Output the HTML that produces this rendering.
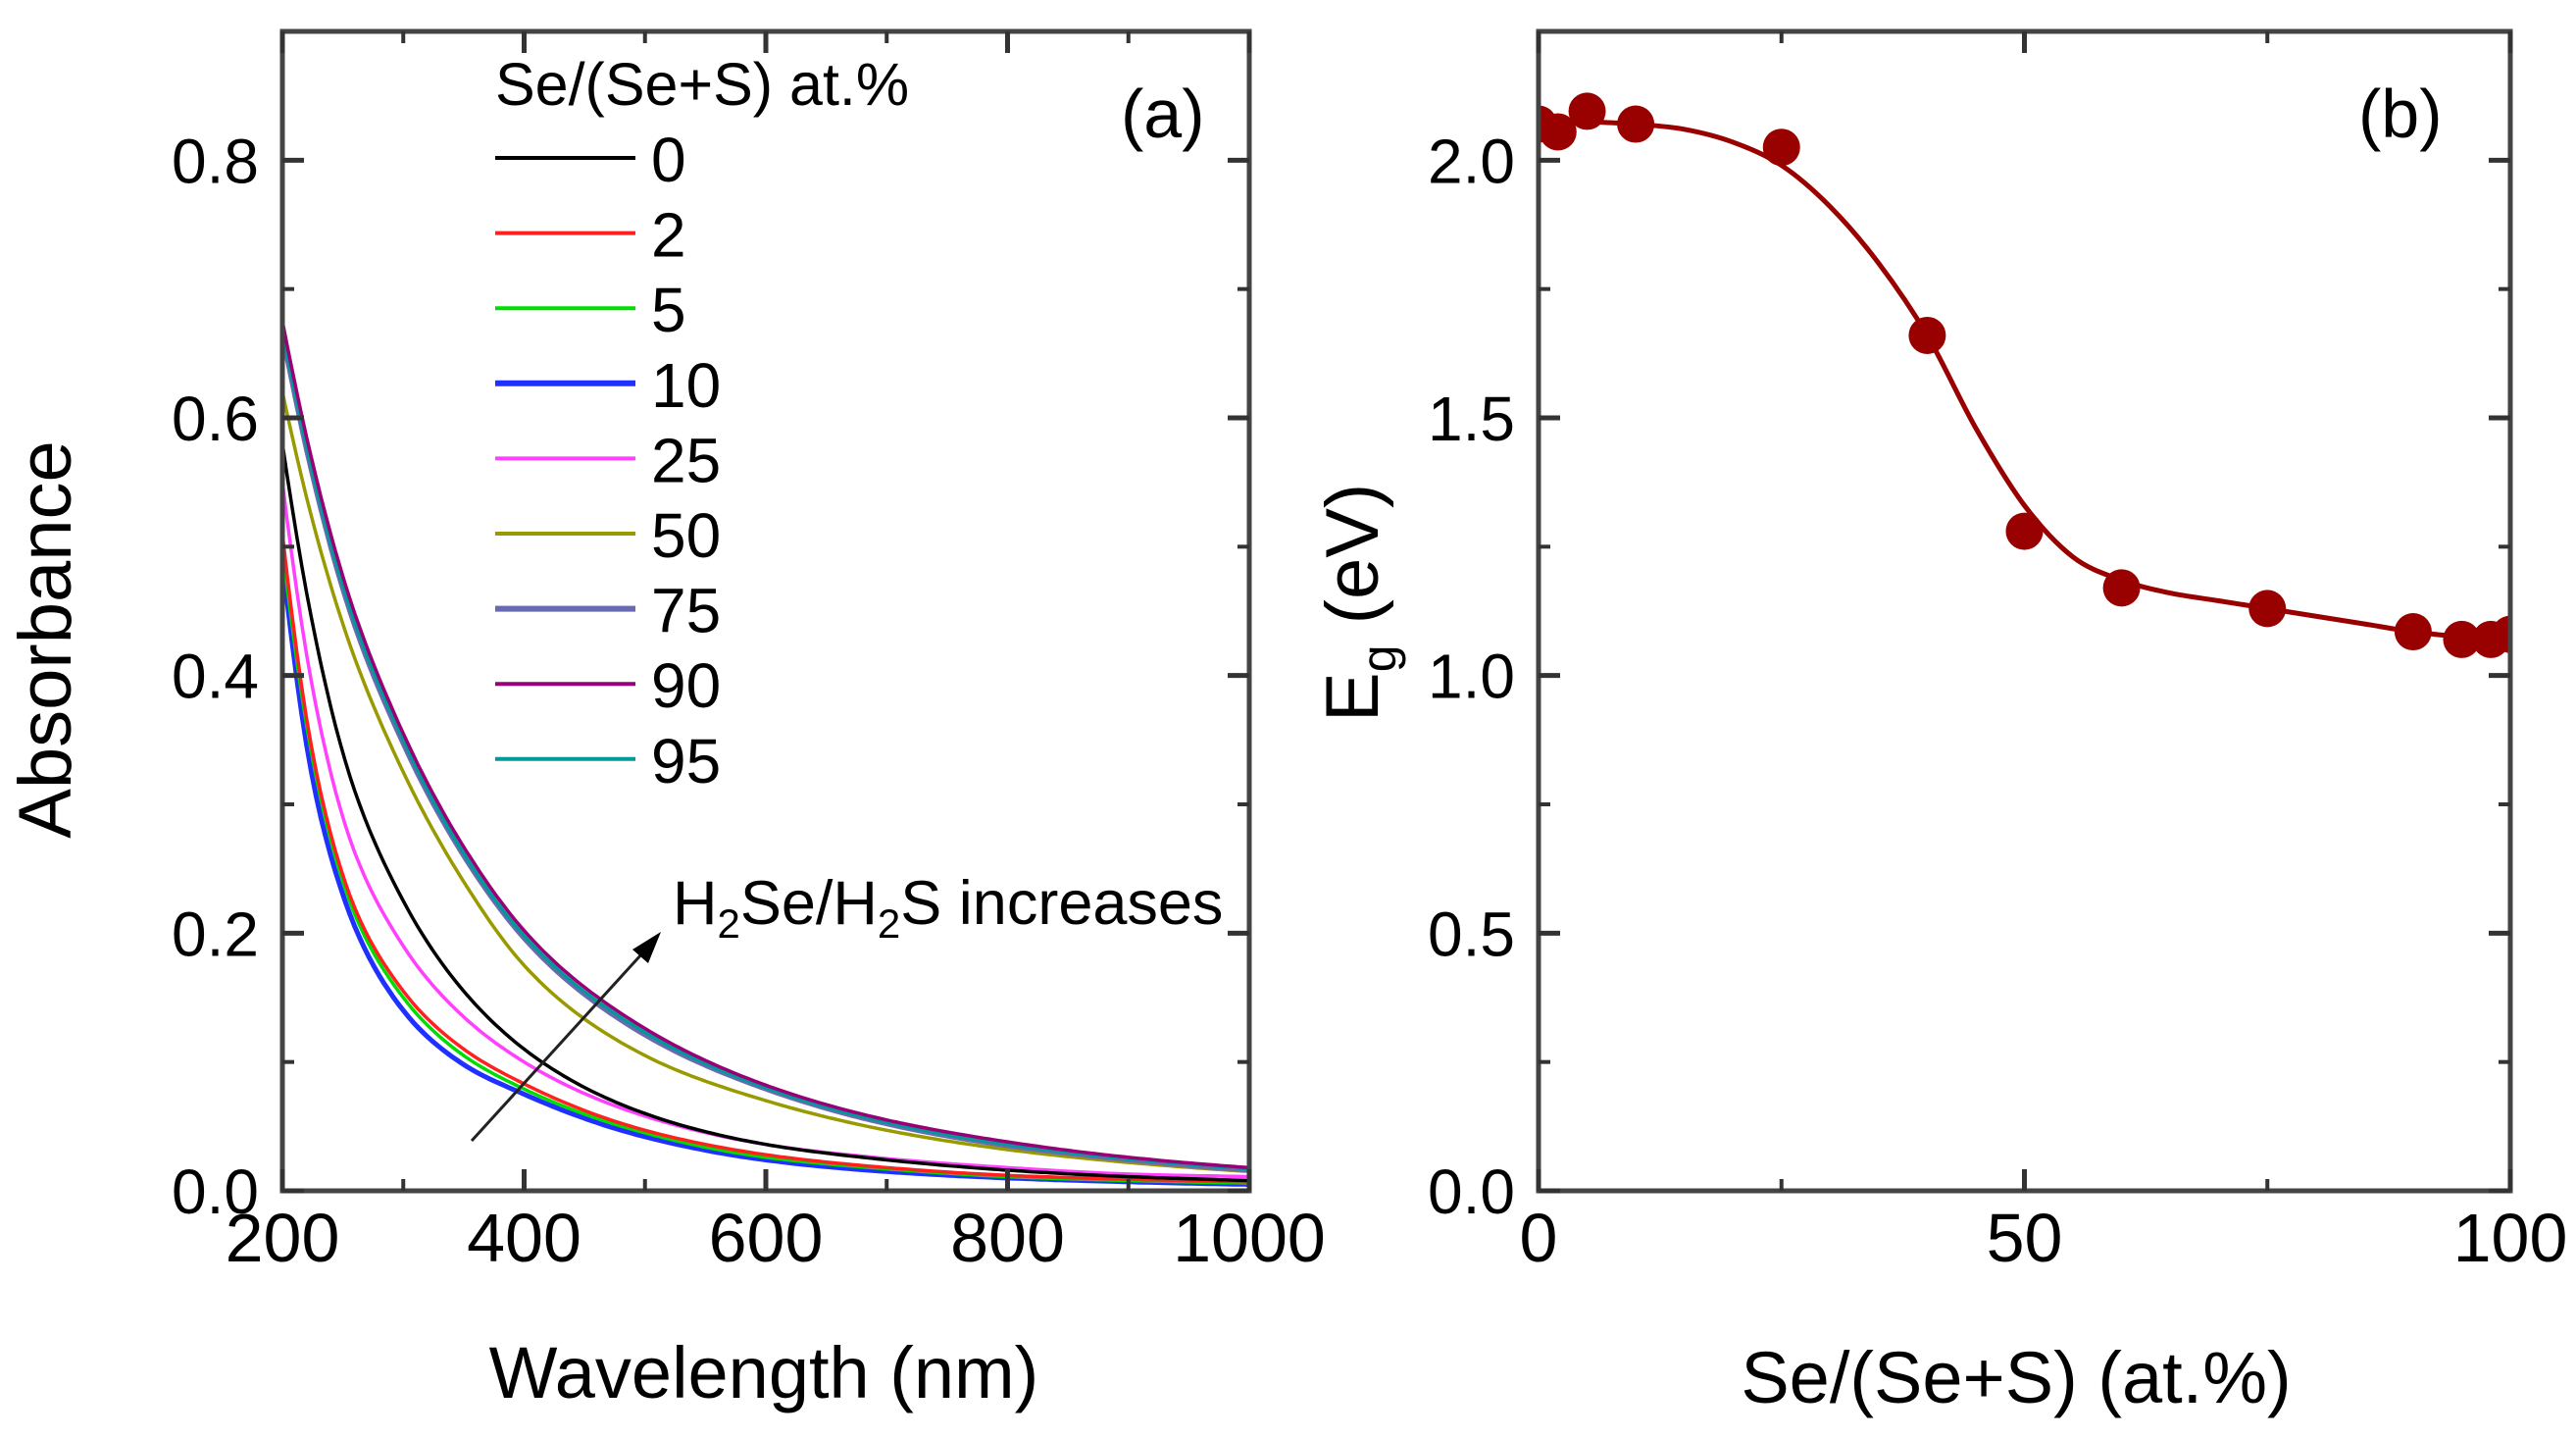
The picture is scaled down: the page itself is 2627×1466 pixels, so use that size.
<!DOCTYPE html>
<html><head><meta charset="utf-8"><style>
html,body{margin:0;padding:0;background:#fff;}
svg{display:block;}
text{font-family:"Liberation Sans",Arial,sans-serif;fill:#000;}
</style></head><body>
<svg id="fig" width="2627" height="1466" viewBox="0 0 2627 1466" xmlns="http://www.w3.org/2000/svg">
<g id="pa"></g>
<g id="pb"></g>
</svg>
<script>
// Panel (a) data
const wavelengths = [200,225,250,300,350,400,500,600,700,800,900,1000];
const seriesLabels = ["0","2","5","10","25","50","75","90","95"];
const seriesColors = ["#000000","#ff2020","#00dd00","#2030ff","#ff40ff","#999900","#6a6ab0","#990077","#009999"];
const abs0  = [0.58,0.44,0.34,0.225,0.155,0.11,0.06,0.036,0.024,0.016,0.011,0.008];
const abs2  = [0.51,0.34,0.245,0.155,0.11,0.083,0.047,0.028,0.018,0.012,0.009,0.007];
const abs5  = [0.50,0.335,0.24,0.15,0.105,0.079,0.045,0.026,0.017,0.011,0.008,0.006];
const abs10 = [0.49,0.32,0.23,0.14,0.098,0.075,0.042,0.024,0.015,0.010,0.007,0.005];
const abs25 = [0.55,0.39,0.29,0.19,0.135,0.10,0.058,0.036,0.025,0.018,0.013,0.011];
const abs50 = [0.62,0.52,0.44,0.325,0.24,0.175,0.105,0.07,0.047,0.032,0.022,0.015];
const abs75 = [0.665,0.555,0.467,0.347,0.26,0.196,0.121,0.079,0.052,0.035,0.024,0.016];
const abs90 = [0.675,0.565,0.477,0.355,0.267,0.202,0.126,0.082,0.055,0.038,0.026,0.018];
const abs95 = [0.668,0.558,0.47,0.35,0.262,0.198,0.123,0.08,0.053,0.036,0.025,0.017];
const xTicksA = [200,400,600,800,1000];
const yTicksA = [0.0,0.2,0.4,0.6,0.8];
// Panel (b) data
const seContent = [0,2,5,10,25,40,50,60,75,90,95,98,100];
const bandGap = [2.07,2.055,2.095,2.07,2.025,1.66,1.28,1.17,1.13,1.085,1.07,1.07,1.08];
const fitX = [0,5,10,15,20,25,30,35,40,45,50,55,60,65,70,75,80,85,90,95,100];
const fitY = [2.08,2.075,2.07,2.06,2.035,1.99,1.91,1.80,1.66,1.48,1.33,1.23,1.185,1.16,1.145,1.13,1.115,1.10,1.085,1.075,1.07];
const xTicksB = [0,50,100];
const yTicksB = [0.0,0.5,1.0,1.5,2.0];

const NS="http://www.w3.org/2000/svg";
function mk(tag,attrs,parent){const e=document.createElementNS(NS,tag);for(const k in attrs)e.setAttribute(k,attrs[k]);parent.appendChild(e);return e;}
function smooth(pts){let d="M"+pts[0][0]+","+pts[0][1];for(let i=0;i<pts.length-1;i++){const p0=pts[Math.max(0,i-1)],p1=pts[i],p2=pts[i+1],p3=pts[Math.min(pts.length-1,i+2)];const c1=[p1[0]+(p2[0]-p0[0])/6,p1[1]+(p2[1]-p0[1])/6],c2=[p2[0]-(p3[0]-p1[0])/6,p2[1]-(p3[1]-p1[1])/6];d+=" C"+c1[0]+","+c1[1]+" "+c2[0]+","+c2[1]+" "+p2[0]+","+p2[1];}return d;}
// monotone cubic (Fritsch-Carlson) interpolation in log space
function monoInterp(xs,ys){
  const n=xs.length,ly=ys.map(v=>Math.log(v)),dl=[],m=new Array(n);
  for(let i=0;i<n-1;i++)dl.push((ly[i+1]-ly[i])/(xs[i+1]-xs[i]));
  m[0]=dl[0];m[n-1]=dl[n-2];
  for(let i=1;i<n-1;i++){const h0=xs[i]-xs[i-1],h1=xs[i+1]-xs[i];m[i]=(dl[i-1]*dl[i]<=0)?0:(dl[i-1]*h1+dl[i]*h0)/(h0+h1);}
  for(let i=0;i<n-1;i++){if(dl[i]===0){m[i]=m[i+1]=0;continue;}const a=m[i]/dl[i],b=m[i+1]/dl[i],s=a*a+b*b;if(s>9){const t=3/Math.sqrt(s);m[i]=t*a*dl[i];m[i+1]=t*b*dl[i];}}
  return x=>{let i=0;while(i<n-2&&x>xs[i+1])i++;const h=xs[i+1]-xs[i],t=(x-xs[i])/h,t2=t*t,t3=t2*t;
    const v=(2*t3-3*t2+1)*ly[i]+(t3-2*t2+t)*h*m[i]+(-2*t3+3*t2)*ly[i+1]+(t3-t2)*h*m[i+1];return Math.exp(v);};
}

function frame(g,L,R,T,B,xs,ys,xt,yt,xminor,yminor,xfmt,yfmt){
  const ax=mk("rect",{x:L,y:T,width:R-L,height:B-T,fill:"none",stroke:"#444","stroke-width":5},g);
  
  
  xminor.forEach(v=>{const x=xs(v);mk("line",{x1:x,y1:B,x2:x,y2:B-12,stroke:"#333","stroke-width":4},g);mk("line",{x1:x,y1:T,x2:x,y2:T+12,stroke:"#333","stroke-width":4},g);});
  yminor.forEach(v=>{const y=ys(v);mk("line",{x1:L,y1:y,x2:L+12,y2:y,stroke:"#333","stroke-width":4},g);mk("line",{x1:R,y1:y,x2:R-12,y2:y,stroke:"#333","stroke-width":4},g);});
  xt.forEach(v=>{const x=xs(v);mk("line",{x1:x,y1:B,x2:x,y2:B-22,stroke:"#333","stroke-width":5},g);mk("line",{x1:x,y1:T,x2:x,y2:T+22,stroke:"#333","stroke-width":5},g);
    const t=mk("text",{x:x,y:1286,"font-size":70,"text-anchor":"middle"},g);t.textContent=xfmt(v);
    
    });
  yt.forEach(v=>{const y=ys(v);mk("line",{x1:L,y1:y,x2:L+22,y2:y,stroke:"#333","stroke-width":5},g);mk("line",{x1:R,y1:y,x2:R-22,y2:y,stroke:"#333","stroke-width":5},g);
    const t=mk("text",{x:L-24,y:y+23,"font-size":64,"text-anchor":"end"},g);t.textContent=yfmt(v);
    
    });
}

// Panel A
const pa=document.getElementById("pa");
const aL=288,aR=1274,aT=32,aB=1214;
const xa=v=>aL+(v-200)/800*(aR-aL);
const ya=v=>aB-v/0.9*(aB-aT);
const allAbs=[abs0,abs2,abs5,abs10,abs25,abs50,abs75,abs90,abs95];
const order=[3,2,1,4,0,5,6,8,7];
order.forEach(i=>{
  const f=monoInterp(wavelengths,allAbs[i]);
  let d="";
  for(let w=200;w<=1000;w+=4){d+=(d?" L":"M")+xa(w).toFixed(1)+","+ya(f(w)).toFixed(1);}
  const p=mk("path",{d:d,fill:"none",stroke:seriesColors[i],"stroke-width":(i==3||i==6)?5:3.5,"stroke-linejoin":"round"},pa);
  
  
});
frame(pa,aL,aR,aT,aB,xa,ya,xTicksA,yTicksA,[300,500,700,900],[0.1,0.3,0.5,0.7],v=>String(v),v=>v.toFixed(1));
// legend
const lt=mk("text",{x:505,y:107,"font-size":61},pa);lt.textContent="Se/(Se+S) at.%";


seriesLabels.forEach((s,i)=>{
  const y=161+i*76.6;
  const l=mk("line",{x1:505,y1:y,x2:648,y2:y,stroke:seriesColors[i],"stroke-width":(i==3||i==6)?6:4},pa);
  
  
  const t=mk("text",{x:664,y:y+24,"font-size":64},pa);t.textContent=s;
  
  
});
const la=mk("text",{x:1143,y:140,"font-size":70},pa);la.textContent="(a)";


// arrow
const ar=mk("line",{x1:481,y1:1163,x2:655,y2:972,stroke:"#222","stroke-width":3},pa);


const ah=mk("polygon",{points:"674,950 645,968 661,982",fill:"#000"},pa);


const an=mk("text",{x:686,y:942,"font-size":63},pa);
an.innerHTML='H<tspan font-size="42" dy="14">2</tspan><tspan dy="-14">Se/H</tspan><tspan font-size="42" dy="14">2</tspan><tspan dy="-14">S increases</tspan>';


const xta=mk("text",{x:779,y:1425,"font-size":74,"text-anchor":"middle"},pa);xta.textContent="Wavelength (nm)";


const yta=mk("text",{x:0,y:0,"font-size":76,"text-anchor":"middle",transform:"translate(72,652) rotate(-90)"},pa);yta.textContent="Absorbance";



// Panel B
const pb=document.getElementById("pb");
const bL=1569,bR=2560,bT=32,bB=1214;
const xb=v=>bL+v/100*(bR-bL);
const yb=v=>bB-v/2.25*(bB-bT);
const fit=mk("path",{d:smooth(fitX.map((x,i)=>[xb(x),yb(fitY[i])])),fill:"none",stroke:"#990000","stroke-width":5},pb);


const clip=mk("clipPath",{id:"cb"},pb);mk("rect",{x:bL,y:bT,width:bR-bL,height:bB-bT},clip);
seContent.forEach((x,i)=>{
  const c=mk("circle",{cx:xb(x),cy:yb(bandGap[i]),r:19,fill:"#990000","clip-path":"url(#cb)"},pb);
  
  
});
frame(pb,bL,bR,bT,bB,xb,yb,xTicksB,yTicksB,[25,75],[0.25,0.75,1.25,1.75],v=>String(v),v=>v.toFixed(1));
const lb=mk("text",{x:2405,y:140,"font-size":70},pb);lb.textContent="(b)";


const xtb=mk("text",{x:2056,y:1430,"font-size":74,"text-anchor":"middle"},pb);xtb.textContent="Se/(Se+S) (at.%)";


const ytb=mk("text",{x:0,y:0,"font-size":76,"text-anchor":"start",transform:"translate(1405,736) rotate(-90)"},pb);
ytb.innerHTML='E<tspan font-size="50" dy="18">g</tspan><tspan dy="-18"> (eV)</tspan>';


</script>
</body></html>
